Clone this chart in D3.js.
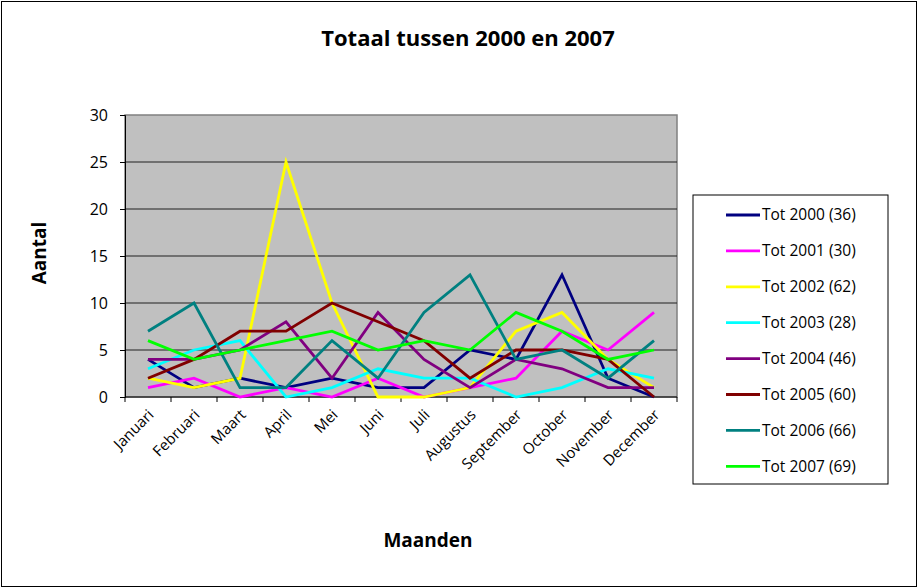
<!DOCTYPE html>
<html>
<head>
<meta charset="utf-8">
<script src="https://cdn.jsdelivr.net/npm/d3@7"></script>
<style>
  body { margin: 0; background: #fff; }
  svg text { font-family: "Open Sans", "DejaVu Sans", sans-serif; }
</style>
</head>
<body>
<div id="chart"></div>
<script>
const months = ["Januari", "Februari", "Maart", "April", "Mei", "Juni", "Juli",
  "Augustus", "September", "October", "November", "December"]

const tot2000 = [4, 1, 2, 1, 2, 1, 1, 5, 4, 13, 2, 0]
const tot2001 = [1, 2, 0, 1, 0, 2, 0, 1, 2, 7, 5, 9]
const tot2002 = [2, 1, 2, 25, 10, 0, 0, 1, 7, 9, 4, 1]
const tot2003 = [3, 5, 6, 0, 1, 3, 2, 2, 0, 1, 3, 2]
const tot2004 = [4, 4, 5, 8, 2, 9, 4, 1, 4, 3, 1, 1]
const tot2005 = [2, 4, 7, 7, 10, 8, 6, 2, 5, 5, 4, 0]
const tot2006 = [7, 10, 1, 1, 6, 2, 9, 13, 4, 5, 2, 6]
const tot2007 = [6, 4, 5, 6, 7, 5, 6, 5, 9, 7, 4, 5]

const seriesNames = ["Tot 2000 (36)", "Tot 2001 (30)", "Tot 2002 (62)", "Tot 2003 (28)",
  "Tot 2004 (46)", "Tot 2005 (60)", "Tot 2006 (66)", "Tot 2007 (69)"]
const seriesColors = ["#000080", "#ff00ff", "#ffff00", "#00ffff",
  "#800080", "#800000", "#008080", "#00ff00"]
const yTicks = [0, 5, 10, 15, 20, 25, 30]

const series = [tot2000, tot2001, tot2002, tot2003, tot2004, tot2005, tot2006, tot2007]
  .map((values, i) => ({name: seriesNames[i], color: seriesColors[i], values}))

const width = 918, height = 588
const plot = {left: 125, top: 115, right: 677, bottom: 397}

const svg = d3.select("#chart").append("svg")
    .attr("width", width)
    .attr("height", height)

// outer frame
svg.append("rect")
    .attr("x", 1.5).attr("y", 1.5)
    .attr("width", width - 3).attr("height", height - 3)
    .attr("fill", "#fff").attr("stroke", "#000").attr("stroke-width", 1)

const x = d3.scaleBand().domain(months).range([plot.left, plot.right])
const y = d3.scaleLinear().domain([0, 30]).range([plot.bottom, plot.top])

// plot background
svg.append("rect")
    .attr("x", plot.left).attr("y", plot.top)
    .attr("width", plot.right - plot.left).attr("height", plot.bottom - plot.top)
    .attr("fill", "#c0c0c0").attr("stroke", "#808080").attr("stroke-width", 1.5)

// gridlines
svg.append("g").selectAll("line").data(yTicks.filter(d => d > 0 && d < 30))
    .join("line")
    .attr("x1", plot.left).attr("x2", plot.right)
    .attr("y1", d => y(d)).attr("y2", d => y(d))
    .attr("stroke", "#202020").attr("stroke-width", 1)

// y axis
const yAxis = svg.append("g")
    .attr("transform", `translate(${plot.left},0)`)
    .call(d3.axisLeft(y).tickValues(yTicks).tickSize(5).tickPadding(12))
yAxis.select(".domain").attr("stroke", "#000")
yAxis.selectAll(".tick line").attr("stroke", "#000")
yAxis.selectAll("text").attr("font-size", 16).attr("fill", "#000")

// x axis: ticks on band edges
const edges = months.map(m => x(m)).concat([plot.right])
const xAxis = svg.append("g")
xAxis.append("line")
    .attr("x1", plot.left).attr("x2", plot.right)
    .attr("y1", plot.bottom).attr("y2", plot.bottom)
    .attr("stroke", "#000")
xAxis.selectAll("line.tick").data(edges).join("line")
    .attr("class", "tick")
    .attr("x1", d => d).attr("x2", d => d)
    .attr("y1", plot.bottom).attr("y2", plot.bottom + 5)
    .attr("stroke", "#000")
xAxis.selectAll("text").data(months).join("text")
    .attr("transform", d => `translate(${x(d) + x.bandwidth() / 2 + 3},${plot.bottom + 15}) rotate(-45)`)
    .attr("text-anchor", "end")
    .attr("dy", "0.35em")
    .attr("font-size", 15)
    .attr("fill", "#000")
    .text(d => d)

// lines
const line = d3.line()
    .x((d, i) => x(months[i]) + x.bandwidth() / 2)
    .y(d => y(d))

svg.append("g").selectAll("path").data(series).join("path")
    .attr("d", d => line(d.values))
    .attr("fill", "none")
    .attr("stroke", d => d.color)
    .attr("stroke-width", 2.8)
    .attr("stroke-linejoin", "miter")

// titles
svg.append("text")
    .attr("x", 468).attr("y", 46)
    .attr("text-anchor", "middle")
    .attr("font-size", 22).attr("font-weight", "bold")
    .text("Totaal tussen 2000 en 2007")

svg.append("text")
    .attr("x", 428).attr("y", 547)
    .attr("text-anchor", "middle")
    .attr("font-size", 19).attr("font-weight", "bold")
    .text("Maanden")

svg.append("text")
    .attr("transform", "translate(46,253) rotate(-90)")
    .attr("text-anchor", "middle")
    .attr("font-size", 19).attr("font-weight", "bold")
    .text("Aantal")

// legend
const legend = svg.append("g")
legend.append("rect")
    .attr("x", 693).attr("y", 195)
    .attr("width", 195).attr("height", 289)
    .attr("fill", "#fff").attr("stroke", "#000").attr("stroke-width", 1)

const rows = legend.selectAll("g.row").data(series).join("g")
    .attr("class", "row")
    .attr("transform", (d, i) => `translate(0,${215 + i * 35.9})`)
rows.append("line")
    .attr("x1", 726).attr("x2", 760)
    .attr("stroke", d => d.color).attr("stroke-width", 2.8)
rows.append("text")
    .attr("x", 762).attr("dy", "0.35em")
    .attr("font-size", 15.5).attr("fill", "#000")
    .text(d => d.name)
</script>
</body>
</html>
